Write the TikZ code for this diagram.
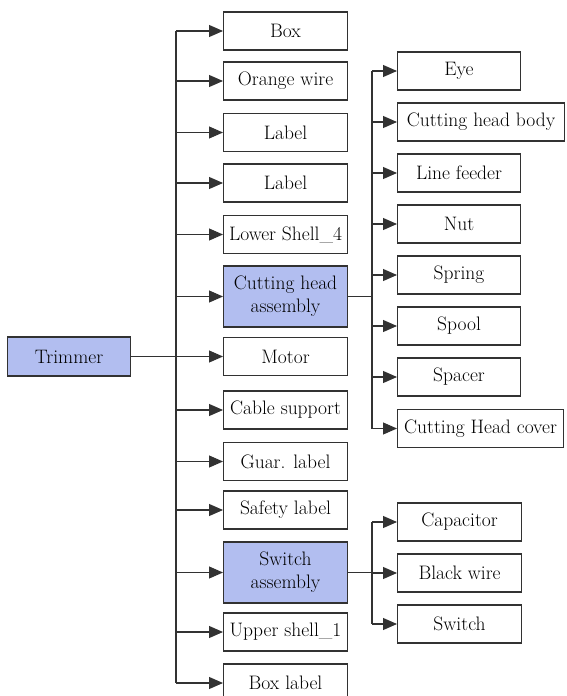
\documentclass[tikz,border=0pt]{standalone}
\usetikzlibrary{arrows.meta}
\definecolor{asmblue}{RGB}{178,190,240}
\definecolor{inkgray}{RGB}{50,50,50}

\begin{document}
\begin{tikzpicture}[x=1pt,y=-1pt,
  part/.style={draw=inkgray, line width=1.1pt, anchor=west, minimum width=124pt, minimum height=38pt, inner sep=1pt, font=\fontsize{19.5}{23}\selectfont},
  group/.style={part, fill=asmblue, minimum height=61pt, align=center},
  link/.style={draw=inkgray, line width=1.1pt},
  feed/.style={link, -{Triangle[length=14pt,width=12pt]}}]
\useasboundingbox (0,0) rectangle (567,696);

% root
\node[part, fill=asmblue, minimum width=123pt, minimum height=39pt] (trimmer) at (7,356.5) {Trimmer};

% first level
\node[part] (box) at (223,31) {Box};
\node[part] (wire) at (223,81) {Orange wire};
\node[part] (labelA) at (223,132.5) {Label};
\node[part] (labelB) at (223,183) {Label};
\node[part] (lower) at (223,234.5) {Lower Shell\_4};
\node[group] (cutting) at (223,296.5) {Cutting head\\assembly};
\node[part] (motor) at (223,356.5) {Motor};
\node[part] (cable) at (223,410) {Cable support};
\node[part] (guar) at (223,461.5) {Guar. label};
\node[part] (safety) at (223,510) {Safety label};
\node[group] (switchasm) at (223,572.5) {Switch\\assembly};
\node[part] (upper) at (223,632) {Upper shell\_1};
\node[part] (boxlabel) at (223,683) {Box label};

% cutting head parts
\node[part, minimum width=123pt] (eye) at (397,71) {Eye};
\node[part, minimum width=167pt] (body) at (397,122) {Cutting head body};
\node[part, minimum width=123pt] (feeder) at (397,173) {Line feeder};
\node[part, minimum width=123pt] (nut) at (397,224) {Nut};
\node[part, minimum width=123pt] (spring) at (397,275) {Spring};
\node[part, minimum width=123pt] (spool) at (397,326) {Spool};
\node[part, minimum width=123pt] (spacer) at (397,377) {Spacer};
\node[part, minimum width=166pt] (cover) at (397,428.5) {Cutting Head cover};

% switch parts
\node[part, minimum width=124pt] (capacitor) at (397,522) {Capacitor};
\node[part, minimum width=124pt] (blackwire) at (397,573) {Black wire};
\node[part, minimum width=124pt] (switch) at (397,624) {Switch};

\coordinate (spineA) at (176,0);
\coordinate (spineB) at (372,0);

% trunk lines
\draw[link] (box.west -| spineA) -- (boxlabel.west -| spineA);
\draw[link] (eye.west -| spineB) -- (cover.west -| spineB);
\draw[link] (capacitor.west -| spineB) -- (switch.west -| spineB);
\draw[link] (cutting.east) -- (cutting.east -| spineB);
\draw[link] (switchasm.east) -- (switchasm.east -| spineB);

\draw[feed] (trimmer) -- (motor);
\foreach \p in {box,wire,labelA,labelB,lower,cutting,cable,guar,safety,switchasm,upper,boxlabel}
  \draw[feed] (\p.west -| spineA) -- (\p.west);
\foreach \p in {eye,body,feeder,nut,spring,spool,spacer,cover,capacitor,blackwire,switch}
  \draw[feed] (\p.west -| spineB) -- (\p.west);

\end{tikzpicture}
\end{document}
